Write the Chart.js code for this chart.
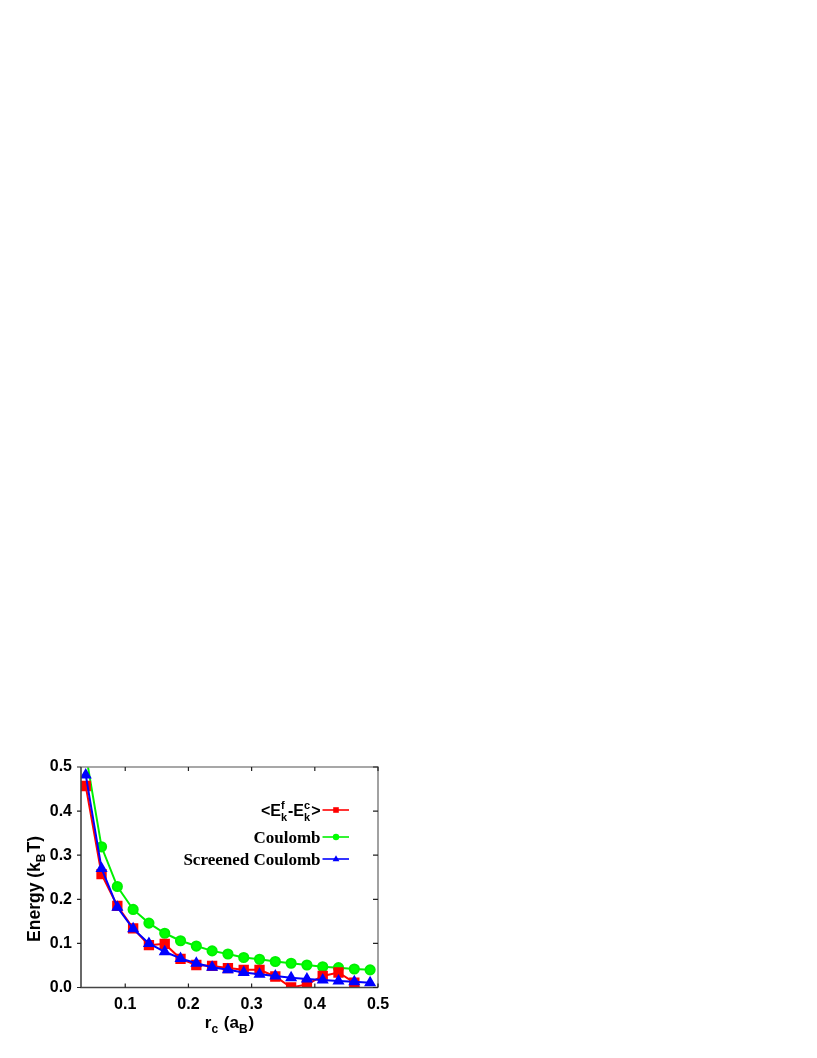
<!DOCTYPE html>
<html>
<head>
<meta charset="utf-8">
<script src="https://cdn.jsdelivr.net/npm/chart.js@4"></script>
<style>
  html, body { margin: 0; padding: 0; background: #fff; }
  #wrap { position: absolute; left: 0; top: 0; width: 817px; height: 1058px; }
</style>
</head>
<body>
<div id="wrap"><canvas id="chart"></canvas></div>
<script>
// r_c values (a_B)
const rc = [0.0375, 0.0625, 0.0875, 0.1125, 0.1375, 0.1625, 0.1875, 0.2125, 0.2375, 0.2625,
            0.2875, 0.3125, 0.3375, 0.3625, 0.3875, 0.4125, 0.4375, 0.4625, 0.4875]

// energies (k_B T)
const diffEnergy = [0.457, 0.257, 0.185, 0.134, 0.096, 0.099, 0.065, 0.051, 0.049, 0.044,
                    0.040, 0.040, 0.025, 0.000, 0.007, 0.026, 0.034, 0.011, -0.025]
const coulomb = [0.53, 0.319, 0.229, 0.177, 0.146, 0.123, 0.106, 0.094, 0.083, 0.076,
                 0.068, 0.064, 0.059, 0.055, 0.051, 0.047, 0.045, 0.042, 0.040]
const screened = [0.482, 0.270, 0.182, 0.133, 0.100, 0.081, 0.066, 0.055, 0.046, 0.040,
                  0.034, 0.030, 0.026, 0.022, 0.019, 0.017, 0.015, 0.013, 0.011]

const xTicks = [0.1, 0.2, 0.3, 0.4, 0.5]
const yTicks = [0.0, 0.1, 0.2, 0.3, 0.4, 0.5]

const SANS = '"Liberation Sans", Arial, sans-serif'
const SERIF = '"Liberation Serif", "Times New Roman", serif'

const toPoints = (ys) => ys.map((y, i) => ({ x: rc[i], y: y }))

// draw a run of text pieces; piece = {t}, {sub}, {sup}, or {sup, sub} stacked
function drawRich(ctx, pieces, x, y, size, family, measureOnly) {
  const small = Math.round(size * 0.7)
  let cx = x
  pieces.forEach(p => {
    if (p.t !== undefined) {
      ctx.font = `bold ${size}px ${family}`
      if (!measureOnly) ctx.fillText(p.t, cx, y)
      cx += ctx.measureText(p.t).width
    } else {
      ctx.font = `bold ${small}px ${family}`
      let w = 0
      if (p.sup !== undefined) {
        if (!measureOnly) ctx.fillText(p.sup, cx, y - size * 0.42)
        w = Math.max(w, ctx.measureText(p.sup).width)
      }
      if (p.sub !== undefined) {
        if (!measureOnly) ctx.fillText(p.sub, cx, y + size * 0.3)
        w = Math.max(w, ctx.measureText(p.sub).width)
      }
      cx += w + 1
    }
  })
  return cx - x
}

const frame = {
  id: 'frame',
  afterDraw(chart) {
    const { ctx, chartArea: a, scales } = chart
    const xs = scales.x, ys = scales.y
    ctx.save()
    ctx.lineCap = 'butt'

    // box
    ctx.lineWidth = 1.6
    ctx.strokeStyle = '#8a8a8a'
    ctx.beginPath()
    ctx.moveTo(a.left, a.top); ctx.lineTo(a.right, a.top); ctx.lineTo(a.right, a.bottom)
    ctx.stroke()
    ctx.strokeStyle = '#444'
    ctx.beginPath()
    ctx.moveTo(a.left, a.top); ctx.lineTo(a.left, a.bottom); ctx.lineTo(a.right, a.bottom)
    ctx.stroke()

    // ticks
    ctx.lineWidth = 1.2
    ctx.strokeStyle = '#222'
    ctx.beginPath()
    xTicks.forEach(v => {
      const px = xs.getPixelForValue(v)
      ctx.moveTo(px, a.bottom); ctx.lineTo(px, a.bottom - 4)
      ctx.moveTo(px, a.top); ctx.lineTo(px, a.top + 4)
    })
    yTicks.forEach(v => {
      const py = ys.getPixelForValue(v)
      ctx.moveTo(a.left, py); ctx.lineTo(a.left - 4, py)
      ctx.moveTo(a.right, py); ctx.lineTo(a.right - 5, py)
    })
    ctx.stroke()

    // axis titles
    ctx.fillStyle = '#000'
    ctx.textBaseline = 'alphabetic'
    const xTitle = [{ t: 'r' }, { sub: 'c' }, { t: ' (a' }, { sub: 'B' }, { t: ')' }]
    let w = drawRich(ctx, xTitle, 0, 0, 17, SANS, true)
    drawRich(ctx, xTitle, (a.left + a.right) / 2 - w / 2, 1028, 17, SANS)

    const yTitle = [{ t: 'Energy (k' }, { sub: 'B' }, { t: 'T)' }]
    w = drawRich(ctx, yTitle, 0, 0, 17.5, SANS, true)
    ctx.save()
    ctx.translate(39.5, 889)
    ctx.rotate(-Math.PI / 2)
    drawRich(ctx, yTitle, -w / 2, 0, 17.5, SANS)
    ctx.restore()

    // legend
    const rows = [
      { ds: 0, y: 810, size: 16, family: SANS,
        pieces: [{ t: '<E' }, { sup: 'f', sub: 'k' }, { t: '-E' }, { sup: 'c', sub: 'k' }, { t: '>' }] },
      { ds: 1, y: 837, size: 17, family: SERIF, pieces: [{ t: 'Coulomb' }] },
      { ds: 2, y: 859, size: 17, family: SERIF, pieces: [{ t: 'Screened Coulomb' }] }
    ]
    rows.forEach(r => {
      const ds = chart.data.datasets[r.ds]
      ctx.fillStyle = '#000'
      const tw = drawRich(ctx, r.pieces, 0, 0, r.size, r.family, true)
      drawRich(ctx, r.pieces, 320.5 - tw, r.y + r.size * 0.36, r.size, r.family)
      ctx.strokeStyle = ds.borderColor
      ctx.lineWidth = 1.6
      ctx.beginPath()
      ctx.moveTo(322.5, r.y); ctx.lineTo(349, r.y)
      ctx.stroke()
      ctx.fillStyle = ds.backgroundColor
      const cx = 336, cy = r.y
      ctx.beginPath()
      if (ds.pointStyle === 'rect') ctx.rect(cx - 2.8, cy - 2.8, 5.6, 5.6)
      else if (ds.pointStyle === 'circle') ctx.arc(cx, cy, 3.2, 0, Math.PI * 2)
      else { ctx.moveTo(cx, cy - 3.8); ctx.lineTo(cx + 3.4, cy + 2.2); ctx.lineTo(cx - 3.4, cy + 2.2); ctx.closePath() }
      ctx.fill()
    })
    ctx.restore()
  }
}

new Chart(document.getElementById('chart'), {
  type: 'line',
  data: {
    datasets: [
      {
        label: '<Ef-Ec>',
        data: toPoints(diffEnergy),
        borderColor: '#ff0000',
        backgroundColor: '#ff0000',
        pointStyle: 'rect',
        pointRadius: 5.9,
        borderWidth: 2,
        order: 1,
        clip: 0
      },
      {
        label: 'Coulomb',
        data: toPoints(coulomb),
        borderColor: '#00f000',
        backgroundColor: '#00ff00',
        pointStyle: 'circle',
        pointRadius: 4.6,
        borderWidth: 2,
        order: 2,
        clip: 0
      },
      {
        label: 'Screened Coulomb',
        data: toPoints(screened),
        borderColor: '#0000ff',
        backgroundColor: '#0000ff',
        pointStyle: 'triangle',
        pointRadius: 5,
        borderWidth: 2,
        order: 0,
        clip: 0
      }
    ]
  },
  options: {
    responsive: true,
    maintainAspectRatio: false,
    animation: false,
    layout: { padding: { left: 0, top: 767, right: 439, bottom: 0 } },
    elements: {
      line: { tension: 0 },
      point: { borderWidth: 0, hoverRadius: 5 }
    },
    plugins: {
      legend: { display: false },
      title: { display: false },
      tooltip: { enabled: false }
    },
    scales: {
      x: {
        type: 'linear',
        min: 0.03,
        max: 0.5,
        grid: { display: false, drawTicks: false },
        border: { display: false },
        afterBuildTicks: (s) => { s.ticks = xTicks.map(v => ({ value: v })) },
        afterFit: (s) => { s.height = 70.5 },
        ticks: {
          padding: 7,
          color: '#000',
          font: { family: SANS, size: 16, weight: 'bold' },
          callback: (v) => Number(v).toFixed(1)
        }
      },
      y: {
        min: 0,
        max: 0.5,
        grid: { display: false, drawTicks: false },
        border: { display: false },
        afterBuildTicks: (s) => { s.ticks = yTicks.map(v => ({ value: v })) },
        afterFit: (s) => { s.width = 81 },
        ticks: {
          padding: 9,
          color: '#000',
          font: { family: SANS, size: 16, weight: 'bold' },
          callback: (v) => Number(v).toFixed(1)
        }
      }
    }
  },
  plugins: [frame]
})
</script>
</body>
</html>
